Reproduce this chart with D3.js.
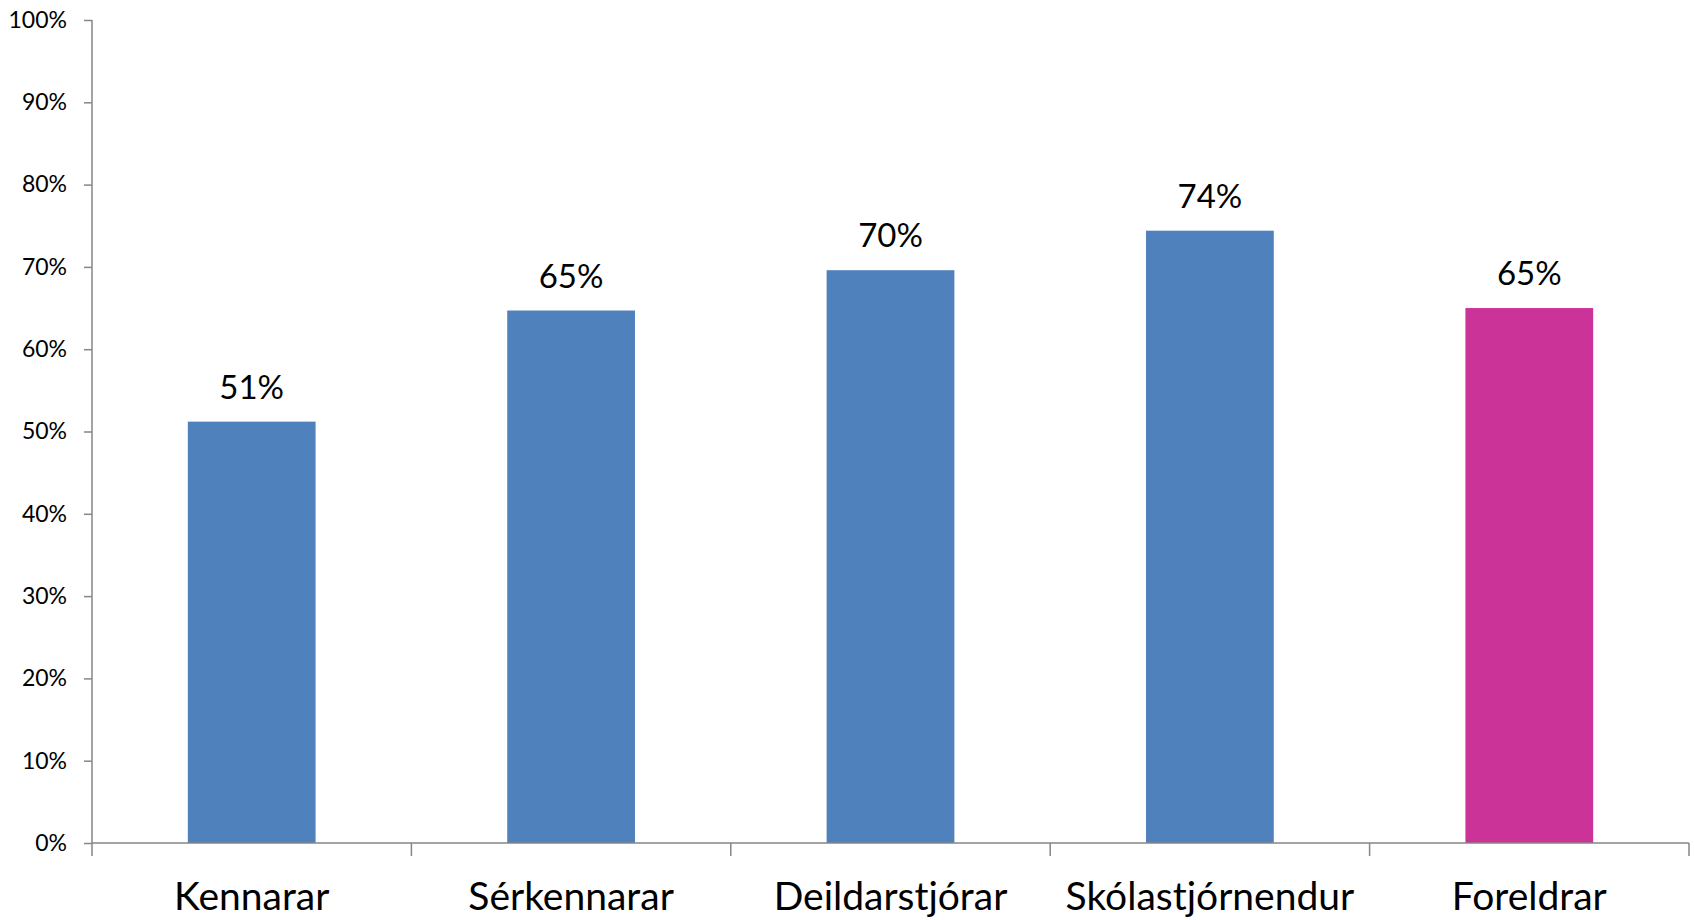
<!DOCTYPE html>
<html>
<head>
<meta charset="utf-8">
<script src="https://cdn.jsdelivr.net/npm/d3@7"></script>
<style>
  html, body { margin: 0; padding: 0; background: #fff; }
  text { font-family: Lato, "Open Sans", sans-serif; fill: #000; }
</style>
</head>
<body>
<div id="page"></div>
<script>
var categories = ['Kennarar', 'Sérkennarar', 'Deildarstjórar', 'Skólastjórnendur', 'Foreldrar'];
var values = [0.512, 0.647, 0.696, 0.744, 0.65];
var barColors = ['#4F81BD', '#4F81BD', '#4F81BD', '#4F81BD', '#CC3399'];
var yTicks = [0, 0.1, 0.2, 0.3, 0.4, 0.5, 0.6, 0.7, 0.8, 0.9, 1];

var width = 1694,
    height = 920,
    margin = {top: 20, right: 5, bottom: 77, left: 92},
    axisColor = '#868686';

var svg = d3.select('#page').append('svg')
    .attr('width', width)
    .attr('height', height);

var x = d3.scaleBand()
    .domain(categories)
    .range([margin.left, width - margin.right])
    .paddingInner(0.6)
    .paddingOuter(0.3);

var y = d3.scaleLinear()
    .domain([0, 1])
    .range([height - margin.bottom, margin.top]);

// bars
svg.selectAll('rect.bar')
    .data(values)
  .enter().append('rect')
    .attr('class', 'bar')
    .attr('x', function(d, i) { return x(categories[i]); })
    .attr('y', function(d) { return y(d); })
    .attr('width', x.bandwidth())
    .attr('height', function(d) { return y(0) - y(d); })
    .style('fill', function(d, i) { return barColors[i]; });

// value labels
svg.selectAll('text.val')
    .data(values)
  .enter().append('text')
    .attr('class', 'val')
    .attr('x', function(d, i) { return x(categories[i]) + x.bandwidth() / 2; })
    .attr('y', function(d) { return y(d) - 23; })
    .attr('text-anchor', 'middle')
    .style('font-size', '33px')
    .text(function(d) { return Math.round(d * 100) + '%'; });

// y axis
var yAxis = svg.append('g')
    .attr('transform', 'translate(' + margin.left + ',0)')
    .call(d3.axisLeft(y).tickValues(yTicks).tickSize(8).tickPadding(17)
      .tickFormat(d3.format('.0%')));

yAxis.select('.domain').remove();
yAxis.append('line')
    .attr('x1', 0).attr('x2', 0)
    .attr('y1', y(1)).attr('y2', y(0) + 13);
yAxis.selectAll('line')
    .attr('stroke', axisColor)
    .attr('stroke-width', 1.5);
yAxis.selectAll('text')
    .style('font-size', '23px');

// x axis: ticks sit on the band edges
var xAxis = svg.append('g')
    .attr('transform', 'translate(0,' + y(0) + ')');

var edges = d3.range(categories.length + 1).map(function(i) {
  return margin.left + i * (width - margin.left - margin.right) / categories.length;
});

xAxis.append('line')
    .attr('x1', margin.left).attr('x2', width - margin.right)
    .attr('y1', 0).attr('y2', 0);
xAxis.selectAll('line.tick')
    .data(edges.slice(1))
  .enter().append('line')
    .attr('class', 'tick')
    .attr('x1', function(d) { return d; })
    .attr('x2', function(d) { return d; })
    .attr('y1', 0).attr('y2', 13);
xAxis.selectAll('line')
    .attr('stroke', axisColor)
    .attr('stroke-width', 1.5);

xAxis.selectAll('text')
    .data(categories)
  .enter().append('text')
    .attr('x', function(d) { return x(d) + x.bandwidth() / 2; })
    .attr('y', 67)
    .attr('text-anchor', 'middle')
    .style('font-size', '39px')
    .text(function(d) { return d; });
</script>
</body>
</html>
